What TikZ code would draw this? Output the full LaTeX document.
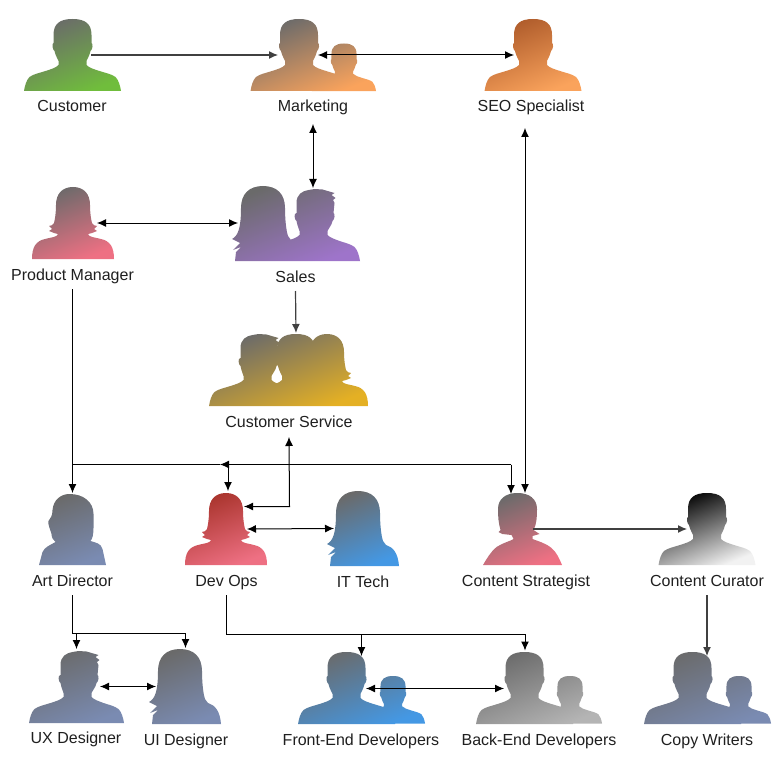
\documentclass[tikz,border=0pt]{standalone}
\usepackage{fontspec}
\setmainfont{Liberation Sans}
\usetikzlibrary{arrows.meta}
% silhouettes, unit = px, origin = top of figure on its axis
\def\manpath{(0,0) .. controls (13,0) and (19,5) .. (19,16) -- (19,24) .. controls (21,24) and (20,31) .. (18,32) .. controls (17,37) and (15,39) .. (14,42) -- (14,46) .. controls (17,49) and (21,50) .. (27,52) .. controls (33,54) and (39,55) .. (43,58) .. controls (46,61) and (47.5,66) .. (48.5,72) -- (-48.5,72) .. controls (-47.5,66) and (-46,61) .. (-43,58) .. controls (-39,55) and (-33,54) .. (-27,52) .. controls (-21,50) and (-17,49) .. (-14,46) -- (-14,42) .. controls (-15,39) and (-17,37) .. (-18,32) .. controls (-20,31) and (-21,24) .. (-19,24) -- (-19,16) .. controls (-19,5) and (-13,0) .. (0,0) -- cycle}
\def\spikypath{(-16,14) .. controls (-16,5) and (-10,2) .. (-4,1) -- (2,0) -- (10,0.5) -- (22,4) -- (19,6) -- (23,9) -- (20.5,11) -- (22,14) -- (21,24) .. controls (23,24) and (22,31) .. (20,32) .. controls (19,37) and (16,39) .. (15,42) -- (15,46) .. controls (18,49) and (22,50) .. (27,52) .. controls (33,54) and (38,55) .. (42,58) .. controls (45,61) and (46.5,66) .. (47.5,72) -- (-47.5,72) .. controls (-46.5,66) and (-45,61) .. (-42,58) .. controls (-38,55) and (-32,54) .. (-26,52) .. controls (-20,50) and (-16,49) .. (-13,46) -- (-13,42) .. controls (-14,39) and (-15,37) .. (-16,32) .. controls (-18,31) and (-19,24) .. (-16,24) -- cycle}
\def\flarepath{(0,0) .. controls (11,0) and (17,7) .. (17,18) .. controls (17,26) and (18,32) .. (19,36) .. controls (20,38) and (22,39) .. (24,39) -- (21,42) -- (24,44) -- (19,46) -- (15,47) .. controls (16,50) and (20,50) .. (28,52) .. controls (37,54) and (41,60) .. (41,72) -- (-41,72) .. controls (-41,60) and (-37,54) .. (-28,52) .. controls (-20,50) and (-16,50) .. (-15,47) -- (-19,46) -- (-24,44) -- (-21,42) -- (-24,39) .. controls (-22,39) and (-20,38) .. (-19,36) .. controls (-18,32) and (-17,26) .. (-17,18) .. controls (-17,7) and (-11,0) .. (0,0) -- cycle}
\def\longpath{(0,0) .. controls (14,0) and (22,8) .. (22,22) .. controls (22,32) and (23,44) .. (25,50) -- (28,54) .. controls (35,56) and (40,62) .. (41,75) -- (-28,75) -- (-27,66) -- (-22,61) -- (-30,64) -- (-23,57) -- (-31,53) .. controls (-25,50) and (-22,42) .. (-22,22) .. controls (-22,8) and (-14,0) .. (0,0) -- cycle}
\def\profilepath{(-3,0) .. controls (11,0) and (21,8) .. (21,20) -- (21,34) .. controls (21,40) and (20,45) .. (18,47) .. controls (24,49) and (28,49) .. (30,55) -- (33.5,71) -- (-33.5,71) -- (-30,58) .. controls (-28,53) and (-22,51) .. (-17,48) .. controls (-19,46) and (-21,44) .. (-21,40) .. controls (-22,36) and (-25,30) .. (-24,27) .. controls (-22,24) and (-20,22) .. (-20,16) .. controls (-19,6) and (-12,0) .. (-3,0) -- cycle}
\def\stratpath{(-5,0) .. controls (7,0) and (14.5,6) .. (14.5,16) .. controls (14.5,24) and (14,32) .. (11,37) -- (17,41) -- (10,43) -- (10,46) .. controls (15,48) and (23,50) .. (29,55) .. controls (34,59) and (37,66) .. (39.5,72) -- (-39.5,72) .. controls (-36,66) and (-32,59) .. (-26,54) .. controls (-20,50) and (-12,48) .. (-9,46) -- (-11,42) -- (-20,41) -- (-24,39) -- (-22,37) .. controls (-24,30) and (-24.5,24) .. (-24.5,16) .. controls (-24.5,6) and (-17,0) .. (-5,0) -- cycle}
\def\At#1#2#3{{[shift={(#1,#2)}]#3}}
\def\AtS#1#2#3#4{{[shift={(#1,#2)},scale=#3]#4}}
\definecolor{headgray}{HTML}{6A6A6A}
\definecolor{cgreen}{HTML}{70BD3C}
\definecolor{corange}{HTML}{FAA35C}
\definecolor{cbrown}{HTML}{AD5A2A}
\definecolor{cpink}{HTML}{EE7083}
\definecolor{cpurple}{HTML}{9E74CA}
\definecolor{cgold}{HTML}{E4B024}
\definecolor{cslate}{HTML}{7A8BB2}
\definecolor{cbrick}{HTML}{A8332B}
\definecolor{cblue}{HTML}{4498E4}
\definecolor{clight}{HTML}{B4B4B4}
\definecolor{cwhite}{HTML}{F2F2F2}
\tikzset{
  figbox/.style={inner sep=0pt,outer sep=0pt},
  silh/.style 2 args={top color=#1,bottom color=#2,shading angle=22,draw=none},
  tag/.style={inner sep=0pt,outer sep=0pt,minimum height=30pt,text height=14pt,text depth=2pt,font=\fontsize{16}{18}\selectfont,text=black!88},
  link/.style={draw=black,line width=1pt,-{Latex[length=9pt,width=8pt]}},
  both/.style={draw=black,line width=1pt,{Latex[length=9pt,width=8pt]}-{Latex[length=9pt,width=8pt]}},
  plain/.style={draw=black,line width=1pt},
  soft/.style={draw=black!75,line width=1.2pt,-{Latex[length=9pt,width=8pt]}}
}
\begin{document}
\begin{tikzpicture}[x=1pt,y=-1pt]
\useasboundingbox (0,0) rectangle (775,759);
% silhouettes
\shade[silh={headgray}{cgreen}] \At{72.5}{19}{\manpath};
\shade[silh={headgray}{corange}] \At{299}{19}{\manpath} \AtS{344}{43.5}{0.66}{\manpath};
\shade[silh={cbrown}{corange}] \At{533}{19}{\manpath};
\shade[silh={headgray}{cpink}] \At{73}{187}{\flarepath};
\shade[silh={headgray}{cpurple}] \At{263}{186}{\longpath} \At{312.5}{189}{\spikypath};
\shade[silh={headgray}{cgold}] \At{256.5}{334}{\spikypath} \At{296}{334}{\manpath} \At{327}{334}{\flarepath};
\shade[silh={headgray}{cslate}] \At{72.5}{494}{\profilepath};
\shade[silh={cbrick}{cpink}] \At{226}{493}{\flarepath};
\shade[silh={headgray}{cblue}] \At{358}{491}{\longpath};
\shade[silh={headgray}{cpink}] \At{522.5}{493}{\stratpath};
\shade[silh={black}{cwhite}] \At{707}{493}{\manpath};
\shade[silh={headgray}{cslate}] \At{76.5}{651}{\spikypath};
\shade[silh={headgray}{cslate}] \At{180}{649}{\longpath};
\shade[silh={headgray}{cblue}] \At{346.5}{652}{\manpath} \AtS{393}{676}{0.66}{\manpath};
\shade[silh={headgray}{clight}] \At{524.5}{652}{\manpath} \AtS{570}{676}{0.66}{\manpath};
\shade[silh={headgray}{cslate}] \At{692.5}{652}{\manpath} \AtS{739}{676}{0.66}{\manpath};
% figure nodes
\node[figbox,minimum width=97pt,minimum height=72pt] (customer) at (72.5,55) {};
\node[figbox,minimum width=126pt,minimum height=72pt] (marketing) at (313,55) {};
\node[figbox,minimum width=97pt,minimum height=72pt] (seo) at (533,55) {};
\node[figbox,minimum width=77pt,minimum height=72pt] (pm) at (72.5,223) {};
\node[figbox,minimum width=127pt,minimum height=75pt] (sales) at (296.5,223.5) {};
\node[figbox,minimum width=160pt,minimum height=72pt] (cs) at (289,370) {};
\node[figbox,minimum width=67pt,minimum height=71pt] (art) at (72.5,529.5) {};
\node[figbox,minimum width=82pt,minimum height=72pt] (devops) at (226,529) {};
\node[figbox,minimum width=69pt,minimum height=75pt] (ittech) at (364.5,528.5) {};
\node[figbox,minimum width=79pt,minimum height=72pt] (strategist) at (522.5,529) {};
\node[figbox,minimum width=96pt,minimum height=72pt] (curator) at (707,529) {};
\node[figbox,minimum width=95pt,minimum height=71pt] (ux) at (76.5,686.5) {};
\node[figbox,minimum width=70pt,minimum height=75pt] (ui) at (187,686.5) {};
\node[figbox,minimum width=126pt,minimum height=72pt] (front) at (361,688) {};
\node[figbox,minimum width=126pt,minimum height=72pt] (back) at (539,688) {};
\node[figbox,minimum width=126pt,minimum height=72pt] (copy) at (707,688) {};
% labels
\node[tag] (lcustomer) at (72,106) {Customer};
\node[tag] (lmarketing) at (313,106) {Marketing};
\node[tag] (lseo) at (531,106) {SEO Specialist};
\node[tag] (lpm) at (72.5,274) {Product Manager};
\node[tag] (lsales) at (295.5,276) {Sales};
\node[tag] (lcs) at (289,421) {Customer Service};
\node[tag] (lart) at (72.5,580) {Art Director};
\node[tag] (ldevops) at (226.5,580) {Dev Ops};
\node[tag] (littech) at (363,581) {IT Tech};
\node[tag] (lstrategist) at (526,580) {Content Strategist};
\node[tag] (lcurator) at (707,580) {Content Curator};
\node[tag] (lux) at (76,737) {UX Designer};
\node[tag] (lui) at (186,739) {UI Designer};
\node[tag] (lfront) at (361,739) {Front-End Developers};
\node[tag] (lback) at (539,739) {Back-End Developers};
\node[tag] (lcopy) at (707,739) {Copy Writers};
% junctions
\coordinate (jtop) at (72.5,464.5);
\coordinate (jdev) at (228,464.5);
\coordinate (jleft) at (220,464.5);
\coordinate (jstrat) at (511,464.5);
\coordinate (jcs) at (289.5,506.5);
\coordinate (jart) at (72.5,633.5);
\coordinate (jux) at (76.5,633.5);
\coordinate (jui) at (185.5,633.5);
\coordinate (jops) at (226.5,634);
\coordinate (jfront) at (361.5,634);
\coordinate (jback) at (525,634);
% connectors
\draw[soft] ([shift={(18.5,0)}]customer.center) -- ([shift={(-35,0)}]marketing.center);
\draw[both] ([shift={(5,0)}]marketing.center) -- ([shift={(-19,0)}]seo.center);
\draw[both] ([yshift=-3pt]lmarketing.south) -- ([shift={(16.5,-35.5)}]sales.center);
\draw[both] ([shift={(24.5,0)}]pm.center) -- ([shift={(-58.5,-0.5)}]sales.center);
\draw[soft] (lsales.south) -- ([shift={(7,-37)}]cs.center);
\draw[link] (lpm.south) -- (jtop) -- ([shift={(0,-36.5)}]art.center);
\draw[link] (jstrat) -- (jleft);
\draw[plain] (jleft) -- (jtop);
\draw[link] (jstrat) -- ([shift={(-11.5,-35)}]strategist.center);
\draw[link] (jdev) -- ([shift={(2,-38)}]devops.center);
\draw[both] ([yshift=-1pt]lcs.south) -- (jcs) -- ([shift={(18,-22.5)}]devops.center);
\draw[both] ([shift={(21,0)}]devops.center) -- ([shift={(-30.5,0)}]ittech.center);
\draw[both] ([shift={(-8,73)}]seo.center) -- ([shift={(2.5,-36)}]strategist.center);
\draw[soft] ([shift={(10.5,0)}]strategist.center) -- ([shift={(-20,0)}]curator.center);
\draw[plain] (lart.south) -- (jart) -- (jui);
\draw[link] (jux) -- ([shift={(0,-37.5)}]ux.center);
\draw[link] (jui) -- ([shift={(-1.5,-38.5)}]ui.center);
\draw[both] ([shift={(23.5,0)}]ux.center) -- ([shift={(-31,0)}]ui.center);
\draw[plain] (ldevops.south) -- (jops) -- (jback);
\draw[link] (jfront) -- ([shift={(0.5,-32)}]front.center);
\draw[link] (jback) -- ([shift={(-14,-37.5)}]back.center);
\draw[both] ([shift={(5,0.5)}]front.center) -- ([shift={(-35,0.5)}]back.center);
\draw[soft] (lcurator.south) -- ([shift={(0,-32)}]copy.center);
\end{tikzpicture}
\end{document}
